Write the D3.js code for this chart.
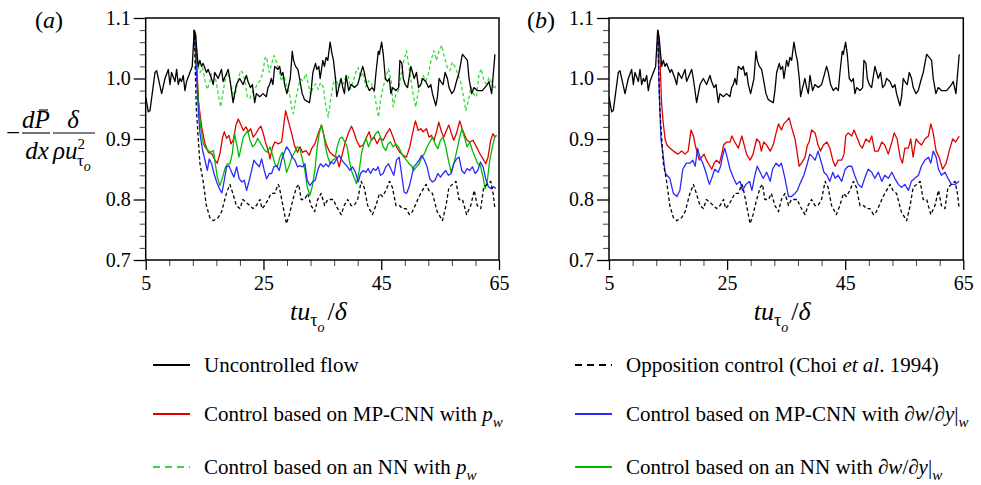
<!DOCTYPE html>
<html><head><meta charset="utf-8">
<script src="https://cdnjs.cloudflare.com/ajax/libs/d3/7.8.5/d3.min.js"></script>
<style>
body{margin:0;background:#fff}
svg{display:block}
text{font-family:"Liberation Serif","Times New Roman",serif;fill:#000}
</style>
</head><body><svg id="c" width="981" height="485"></svg>
<script>
// ---------------- data (t u_tau / delta, -dP/dx * delta/(rho u_tau^2)) ----------------
const xTicks = [5, 25, 45, 65];
const yTicks = [0.7, 0.8, 0.9, 1.0, 1.1];

const uncontrolled = [[5.0,0.97],[5.45,0.945],[5.73,0.947],[6.58,1.01],[6.86,1.013],[7.71,0.975],[8.27,1.0],[8.84,1.015],[9.12,0.99],[9.40,1.01],[9.97,0.995],[10.25,1.015],[10.53,0.99],[10.81,1.0],[11.09,0.995],[11.38,1.005],[11.66,0.98],[11.94,0.995],[12.51,1.01],[12.90,1.02],[13.24,1.08],[13.47,1.07],[13.92,1.02],[14.20,1.03],[14.48,1.02],[14.76,1.025],[15.33,1.01],[15.61,1.015],[16.17,1.0],[16.46,0.99],[16.74,1.01],[17.30,1.0],[17.87,1.015],[18.15,0.995],[19.0,1.015],[19.28,1.0],[19.84,0.96],[20.12,0.975],[20.41,0.99],[20.69,0.995],[20.97,1.0],[21.53,0.99],[22.10,1.005],[22.38,0.995],[22.78,0.985],[23.12,0.99],[23.51,0.96],[23.79,0.975],[24.36,0.97],[24.92,0.975],[25.49,0.97],[25.77,0.985],[26.05,0.99],[26.33,1.0],[26.61,0.99],[26.90,1.02],[27.46,1.015],[27.74,1.02],[28.03,1.005],[28.31,1.01],[28.59,0.99],[28.98,0.975],[29.32,0.99],[29.55,1.0],[29.89,1.045],[30.11,1.03],[30.45,1.02],[30.85,1.015],[31.13,1.0],[31.58,0.975],[31.98,0.965],[32.82,0.96],[33.10,0.98],[33.39,1.01],[33.84,1.025],[34.06,1.015],[34.40,1.02],[34.63,1.0],[35.08,1.03],[35.36,1.02],[35.64,1.035],[35.93,1.03],[36.32,1.06],[36.66,1.04],[36.89,1.03],[37.23,1.0],[37.45,0.97],[37.79,0.985],[38.18,1.0],[38.47,0.985],[38.75,0.975],[39.03,1.005],[39.48,0.98],[39.88,0.99],[40.44,0.985],[41.00,0.99],[41.57,1.01],[41.85,1.02],[42.13,1.01],[42.53,0.99],[42.98,0.98],[43.43,0.985],[43.83,0.98],[44.11,1.01],[44.50,1.045],[44.67,1.04],[45.07,1.06],[45.35,1.04],[45.69,1.0],[46.08,0.995],[46.37,1.0],[46.65,0.975],[46.93,0.985],[47.49,0.98],[47.95,0.985],[48.17,1.03],[48.51,1.025],[48.74,1.0],[49.07,0.99],[49.47,0.985],[50.03,1.02],[50.32,1.01],[50.60,1.0],[50.99,1.01],[51.33,0.985],[51.73,0.99],[52.01,1.0],[52.57,0.995],[53.03,0.985],[53.42,0.99],[53.70,0.975],[54.27,0.955],[54.55,0.97],[54.83,1.0],[55.11,0.995],[55.51,0.99],[55.85,1.01],[56.24,1.0],[56.52,0.985],[56.98,0.975],[57.37,0.98],[57.77,0.995],[58.22,1.01],[58.50,1.025],[58.78,1.04],[59.23,1.035],[59.63,1.03],[59.91,1.0],[60.36,0.975],[60.76,0.985],[61.32,0.98],[62.17,0.98],[63.01,0.99],[63.30,0.995],[63.75,0.975],[64.31,1.04]];

const opposition = [[13.24,1.08],[13.6,0.95],[14.2,0.86],[14.76,0.83],[15.3,0.79],[15.9,0.77],[16.5,0.765],[17.3,0.77],[17.9,0.78],[18.7,0.81],[19.3,0.825],[19.8,0.81],[20.4,0.79],[21.0,0.785],[21.5,0.8],[22.1,0.795],[22.7,0.79],[23.2,0.785],[23.8,0.79],[24.4,0.8],[24.75,0.785],[25.2,0.79],[25.8,0.8],[26.3,0.81],[26.9,0.81],[27.5,0.825],[27.7,0.82],[28.3,0.79],[28.9,0.76],[29.4,0.775],[30.0,0.8],[30.6,0.82],[31.0,0.825],[31.4,0.8],[32.0,0.8],[32.5,0.81],[33.1,0.79],[33.7,0.78],[34.2,0.8],[34.8,0.81],[35.4,0.79],[35.9,0.8],[36.5,0.8],[36.9,0.8],[37.3,0.79],[38.2,0.775],[38.7,0.79],[39.3,0.8],[39.9,0.79],[40.4,0.79],[41.0,0.8],[41.6,0.83],[42.1,0.82],[42.7,0.79],[43.5,0.775],[44.1,0.79],[44.7,0.81],[45.2,0.805],[45.8,0.815],[46.4,0.83],[46.9,0.82],[47.5,0.79],[48.1,0.79],[48.6,0.785],[49.2,0.785],[49.8,0.775],[50.3,0.78],[51.2,0.8],[51.7,0.81],[52.6,0.825],[53.1,0.815],[53.7,0.81],[54.5,0.78],[55.4,0.765],[56.0,0.79],[56.5,0.82],[57.1,0.825],[57.7,0.83],[58.2,0.8],[58.8,0.8],[59.5,0.775],[60.2,0.79],[60.8,0.815],[61.3,0.79],[61.9,0.785],[62.4,0.82],[63.0,0.825],[63.6,0.83],[64.0,0.81],[64.3,0.785]];

// panel (a)
const mpcnnPwA = [[13.24,1.08],[13.48,1.074],[13.94,0.964],[14.50,0.920],[15.07,0.892],[15.63,0.878],[16.20,0.876],[16.76,0.865],[17.16,0.860],[17.61,0.876],[18.07,0.903],[18.35,0.912],[18.74,0.901],[19.14,0.906],[19.48,0.892],[19.88,0.898],[20.33,0.923],[20.72,0.933],[21.18,0.923],[21.57,0.914],[22.02,0.920],[22.48,0.912],[22.82,0.917],[23.27,0.903],[23.72,0.909],[24.17,0.917],[24.57,0.921],[24.97,0.909],[25.42,0.892],[25.81,0.881],[26.10,0.867],[26.55,0.887],[26.95,0.895],[27.51,0.892],[28.08,0.895],[28.47,0.925],[28.76,0.947],[29.10,0.934],[29.49,0.920],[29.94,0.903],[30.34,0.887],[30.79,0.878],[31.19,0.887],[31.64,0.878],[32.21,0.881],[32.77,0.873],[33.17,0.884],[33.73,0.892],[34.30,0.909],[34.86,0.923],[35.32,0.903],[35.83,0.887],[36.28,0.878],[36.84,0.873],[37.41,0.870],[37.86,0.854],[38.26,0.870],[38.82,0.892],[39.39,0.909],[39.95,0.921],[40.35,0.912],[40.80,0.898],[41.37,0.887],[41.93,0.890],[42.50,0.903],[42.95,0.912],[43.35,0.898],[43.80,0.903],[44.31,0.892],[44.76,0.901],[45.33,0.898],[45.89,0.909],[46.46,0.917],[47.03,0.903],[47.59,0.887],[48.16,0.878],[48.72,0.873],[49.29,0.870],[49.85,0.887],[50.31,0.909],[50.81,0.930],[51.27,0.914],[51.72,0.917],[52.11,0.912],[52.68,0.917],[53.13,0.903],[53.53,0.906],[53.98,0.898],[54.38,0.912],[54.77,0.928],[55.23,0.912],[55.62,0.903],[56.07,0.914],[56.47,0.923],[56.92,0.909],[57.32,0.898],[57.77,0.909],[58.34,0.930],[58.73,0.917],[59.19,0.906],[59.58,0.898],[60.03,0.895],[60.60,0.898],[61.17,0.887],[61.73,0.876],[62.30,0.867],[62.75,0.859],[63.14,0.870],[63.60,0.898],[63.99,0.909],[64.28,0.903],[64.56,0.906]];

const mpcnnDwA = [[13.24,1.08],[13.94,0.947],[14.22,0.909],[14.67,0.881],[15.07,0.865],[15.46,0.848],[15.80,0.867],[16.20,0.859],[16.60,0.843],[17.05,0.829],[17.50,0.818],[17.95,0.811],[18.35,0.832],[18.74,0.854],[19.14,0.856],[19.59,0.845],[19.99,0.837],[20.44,0.854],[20.89,0.834],[21.35,0.829],[21.74,0.832],[22.14,0.815],[22.59,0.832],[22.99,0.848],[23.38,0.865],[23.83,0.859],[24.29,0.854],[24.68,0.867],[25.14,0.848],[25.53,0.834],[25.98,0.843],[26.38,0.843],[26.78,0.854],[27.23,0.856],[27.68,0.848],[28.08,0.865],[28.47,0.876],[28.93,0.887],[29.38,0.881],[29.89,0.870],[30.34,0.865],[30.79,0.854],[31.19,0.856],[31.64,0.854],[32.04,0.859],[32.43,0.832],[32.88,0.823],[33.34,0.829],[33.79,0.832],[34.30,0.851],[34.69,0.859],[35.15,0.854],[35.60,0.859],[36.05,0.854],[36.45,0.862],[36.96,0.859],[37.41,0.867],[37.86,0.873],[38.31,0.865],[38.82,0.859],[39.28,0.854],[39.67,0.848],[40.12,0.854],[40.63,0.845],[41.09,0.829],[41.48,0.843],[41.93,0.848],[42.39,0.845],[42.78,0.851],[43.18,0.843],[43.63,0.851],[44.08,0.848],[44.48,0.854],[44.88,0.840],[45.33,0.843],[45.78,0.854],[46.23,0.859],[46.74,0.848],[47.14,0.840],[47.59,0.865],[48.04,0.870],[48.44,0.843],[48.89,0.812],[49.29,0.810],[49.74,0.821],[50.14,0.837],[50.53,0.854],[50.98,0.859],[51.44,0.865],[51.89,0.873],[52.34,0.865],[52.79,0.854],[53.25,0.834],[53.70,0.829],[54.15,0.832],[54.60,0.843],[55.06,0.837],[55.51,0.843],[55.96,0.848],[56.41,0.840],[56.87,0.843],[57.32,0.859],[57.77,0.867],[58.22,0.870],[58.68,0.848],[59.13,0.843],[59.58,0.851],[60.03,0.848],[60.49,0.854],[60.94,0.843],[61.39,0.848],[61.84,0.862],[62.30,0.854],[62.75,0.834],[63.20,0.821],[63.65,0.818],[64.10,0.821],[64.45,0.818]];

const nnDwA = [[13.24,1.08],[13.94,0.964],[14.33,0.920],[14.79,0.892],[15.24,0.884],[15.63,0.881],[16.03,0.878],[16.48,0.881],[16.82,0.859],[17.16,0.837],[17.61,0.823],[18.07,0.837],[18.46,0.851],[18.86,0.859],[19.31,0.859],[19.71,0.876],[20.10,0.909],[20.44,0.892],[20.84,0.870],[21.23,0.887],[21.57,0.903],[21.97,0.909],[22.31,0.914],[22.70,0.898],[23.16,0.887],[23.61,0.892],[24.00,0.901],[24.40,0.895],[24.85,0.887],[25.25,0.881],[25.64,0.878],[26.10,0.887],[26.55,0.873],[26.95,0.859],[27.34,0.854],[27.79,0.870],[28.19,0.878],[28.53,0.865],[28.93,0.845],[29.38,0.856],[29.83,0.870],[30.28,0.878],[30.74,0.887],[31.19,0.884],[31.64,0.865],[32.04,0.848],[32.43,0.821],[32.88,0.807],[33.28,0.821],[33.73,0.848],[34.13,0.887],[34.47,0.909],[34.81,0.923],[35.15,0.912],[35.54,0.887],[35.94,0.870],[36.33,0.859],[36.73,0.865],[37.13,0.867],[37.52,0.887],[37.97,0.901],[38.37,0.903],[38.82,0.895],[39.22,0.887],[39.56,0.865],[39.95,0.848],[40.35,0.837],[40.80,0.826],[41.26,0.848],[41.65,0.876],[42.05,0.892],[42.44,0.901],[42.84,0.887],[43.29,0.898],[43.69,0.903],[44.08,0.909],[44.48,0.913],[44.88,0.903],[45.33,0.887],[45.78,0.881],[46.18,0.892],[46.57,0.895],[47.03,0.887],[47.48,0.892],[47.93,0.887],[48.38,0.878],[48.84,0.870],[49.29,0.865],[49.74,0.859],[50.14,0.856],[50.53,0.848],[50.98,0.854],[51.44,0.859],[51.89,0.870],[52.34,0.876],[52.79,0.887],[53.25,0.895],[53.70,0.903],[54.15,0.892],[54.60,0.884],[55.06,0.898],[55.51,0.903],[55.96,0.887],[56.41,0.865],[56.87,0.845],[57.32,0.859],[57.77,0.878],[58.22,0.898],[58.68,0.917],[59.13,0.903],[59.58,0.887],[60.03,0.895],[60.49,0.881],[60.94,0.870],[61.39,0.859],[61.84,0.856],[62.30,0.837],[62.64,0.818],[63.03,0.832],[63.43,0.865],[63.88,0.887],[64.28,0.903],[64.56,0.906]];

const nnPwA = [[13.24,1.08],[13.48,1.069],[13.82,1.024],[14.22,1.010],[14.67,1.018],[15.07,0.996],[15.46,0.982],[15.80,0.991],[16.20,1.008],[16.60,1.010],[16.93,0.996],[17.33,0.974],[17.73,0.953],[18.07,0.974],[18.46,0.996],[18.86,1.010],[19.20,1.002],[19.59,0.986],[19.99,0.967],[20.33,0.980],[20.72,0.999],[21.12,1.013],[21.46,1.010],[21.86,0.996],[22.25,0.970],[22.70,0.967],[23.16,0.978],[23.55,0.982],[23.95,0.991],[24.40,0.996],[24.85,1.008],[25.25,1.033],[25.53,1.036],[25.98,1.010],[26.38,1.024],[26.78,1.038],[27.23,1.027],[27.68,1.010],[28.08,0.996],[28.47,1.005],[28.93,0.988],[29.38,0.977],[29.77,0.953],[30.06,0.942],[30.45,0.964],[30.90,0.986],[31.30,0.999],[31.75,0.996],[32.21,1.008],[32.60,0.991],[33.00,0.974],[33.45,0.986],[33.90,0.991],[34.30,0.982],[34.69,0.993],[35.15,0.986],[35.60,0.953],[36.00,0.936],[36.39,0.964],[36.84,0.991],[37.24,1.002],[37.69,0.986],[38.09,0.999],[38.54,0.991],[38.99,1.002],[39.39,1.005],[39.78,0.982],[40.24,0.996],[40.69,1.010],[41.09,1.018],[41.48,1.002],[41.93,1.010],[42.39,0.986],[42.84,0.996],[43.29,0.993],[43.74,0.980],[44.20,0.955],[44.53,0.936],[44.88,0.964],[45.33,0.986],[45.78,1.002],[46.23,1.016],[46.69,0.996],[47.03,0.953],[47.48,0.974],[47.93,0.980],[48.38,1.008],[48.84,1.030],[49.29,1.046],[49.63,1.024],[49.97,1.002],[50.42,0.974],[50.87,0.953],[51.21,0.974],[51.66,0.991],[52.11,1.005],[52.57,0.996],[53.02,1.008],[53.47,1.030],[53.93,1.046],[54.38,1.030],[54.83,1.046],[55.28,1.055],[55.74,1.035],[56.19,1.019],[56.64,1.013],[57.09,1.027],[57.55,1.019],[58.00,1.008],[58.45,0.996],[58.90,0.974],[59.36,0.947],[59.81,0.964],[60.26,0.986],[60.71,0.974],[61.17,0.970],[61.62,1.008],[62.01,1.016],[62.41,0.996],[62.86,0.991],[63.31,1.002],[63.76,0.993],[64.22,0.982],[64.45,0.988]];

// panel (b)
const mpcnnPwB = [[13.24,1.08],[13.6,1.04],[13.9,0.96],[14.2,0.925],[14.5,0.9],[14.8,0.89],[15.3,0.885],[15.9,0.88],[16.7,0.875],[17.3,0.88],[17.9,0.875],[18.4,0.88],[18.9,0.915],[19.3,0.905],[19.6,0.89],[20.0,0.875],[20.3,0.865],[20.7,0.87],[21.1,0.875],[21.5,0.865],[22.1,0.855],[22.4,0.85],[22.8,0.86],[23.2,0.865],[23.7,0.86],[24.1,0.875],[24.4,0.89],[24.9,0.895],[25.5,0.895],[25.8,0.905],[26.3,0.895],[26.9,0.885],[27.5,0.905],[27.9,0.89],[28.3,0.875],[28.9,0.865],[29.4,0.875],[30.0,0.9],[30.5,0.895],[30.8,0.88],[31.2,0.895],[31.7,0.89],[32.3,0.88],[32.8,0.89],[33.3,0.91],[33.7,0.925],[34.2,0.915],[34.6,0.925],[35.1,0.93],[35.5,0.935],[35.9,0.92],[36.5,0.9],[36.9,0.875],[37.2,0.855],[37.6,0.86],[38.2,0.87],[38.6,0.89],[38.9,0.895],[39.3,0.915],[39.9,0.91],[40.4,0.89],[40.8,0.88],[41.3,0.89],[41.9,0.895],[42.4,0.885],[42.9,0.865],[43.3,0.855],[43.8,0.865],[44.4,0.865],[44.8,0.875],[45.1,0.905],[45.5,0.91],[46.1,0.905],[46.5,0.915],[46.9,0.905],[47.5,0.89],[47.9,0.885],[48.5,0.9],[49.1,0.895],[49.5,0.905],[50.0,0.88],[50.6,0.88],[51.2,0.895],[51.7,0.89],[52.3,0.875],[52.9,0.895],[53.3,0.91],[53.8,0.9],[54.3,0.87],[54.7,0.86],[55.1,0.885],[55.7,0.885],[56.1,0.9],[56.5,0.87],[57.0,0.9],[57.4,0.895],[57.9,0.89],[58.5,0.9],[59.1,0.905],[59.5,0.925],[59.9,0.91],[60.4,0.88],[60.9,0.87],[61.5,0.85],[62.1,0.86],[62.6,0.88],[63.2,0.9],[63.7,0.895],[64.3,0.905]];

const mpcnnDwB = [[13.24,1.08],[13.5,0.98],[13.8,0.9],[14.2,0.87],[14.5,0.845],[14.8,0.84],[15.3,0.835],[15.9,0.81],[16.5,0.805],[17.0,0.815],[17.5,0.85],[18.1,0.86],[18.7,0.86],[19.2,0.865],[19.6,0.855],[20.0,0.885],[20.4,0.87],[20.9,0.86],[21.4,0.845],[22.0,0.825],[22.4,0.835],[22.9,0.85],[23.5,0.845],[23.9,0.855],[24.2,0.87],[24.6,0.885],[25.0,0.87],[25.5,0.85],[26.1,0.835],[26.6,0.825],[27.2,0.83],[27.6,0.815],[28.2,0.825],[28.8,0.83],[29.2,0.815],[29.7,0.84],[30.1,0.855],[30.6,0.845],[31.1,0.835],[31.7,0.845],[32.3,0.83],[32.7,0.85],[33.3,0.86],[33.8,0.855],[34.2,0.86],[34.8,0.835],[35.4,0.805],[35.9,0.805],[36.5,0.81],[36.9,0.815],[37.3,0.825],[38.0,0.84],[38.6,0.86],[39.0,0.875],[39.5,0.87],[39.9,0.865],[40.4,0.88],[41.0,0.86],[41.4,0.845],[41.9,0.84],[42.4,0.83],[42.9,0.845],[43.3,0.835],[43.8,0.84],[44.4,0.83],[45.0,0.85],[45.5,0.855],[46.1,0.855],[46.6,0.84],[47.2,0.825],[47.8,0.82],[48.3,0.835],[48.9,0.85],[49.5,0.845],[50.0,0.835],[50.6,0.845],[51.2,0.83],[51.7,0.84],[52.3,0.835],[52.9,0.845],[53.4,0.835],[54.0,0.825],[54.5,0.82],[55.1,0.825],[55.7,0.815],[56.2,0.83],[56.8,0.835],[57.4,0.84],[57.9,0.855],[58.5,0.865],[59.1,0.87],[59.5,0.86],[59.9,0.88],[60.4,0.87],[60.8,0.85],[61.3,0.84],[61.9,0.845],[62.4,0.835],[63.0,0.825],[63.6,0.825],[64.3,0.83]];

const panelLabels = ["(a)", "(b)"];

// ---------------- drawing ----------------
const svg = d3.select("#c");
const C = {black:"#000", red:"#e00000", blue:"#2a2aff", green:"#00bb00", greenDash:"#33dd33"};
const seriesStyle = {
  uncontrolled:{color:C.black, dash:null},
  opposition:{color:C.black, dash:"3.5,2.5"},
  mpcnnPw:{color:C.red, dash:null},
  mpcnnDw:{color:C.blue, dash:null},
  nnPw:{color:C.greenDash, dash:"3.5,2.5"},
  nnDw:{color:C.green, dash:null}
};

const panels = [
  {left:145.7, right:499, label:panelLabels[0], labelX:35, series:[
    ["nnPw", nnPwA], ["mpcnnPw", mpcnnPwA], ["nnDw", nnDwA], ["mpcnnDw", mpcnnDwA], ["opposition", opposition], ["uncontrolled", uncontrolled]]},
  {left:609, right:963.3, label:panelLabels[1], labelX:527, series:[
    ["mpcnnPw", mpcnnPwB], ["mpcnnDw", mpcnnDwB], ["opposition", opposition], ["uncontrolled", uncontrolled]]}
];
const plotTop = 18, plotBottom = 260;

panels.forEach((p, pi) => {
  const x = d3.scaleLinear().domain([5, 65]).range([p.left, p.right]);
  const y = d3.scaleLinear().domain([0.7, 1.1]).range([plotBottom, plotTop]);
  const g = svg.append("g");
  const clipId = "clip" + pi;
  svg.append("defs").append("clipPath").attr("id", clipId)
    .append("rect").attr("x", p.left).attr("y", plotTop).attr("width", p.right - p.left).attr("height", plotBottom - plotTop);

  // minor ticks
  const yMinor = d3.range(0.72, 1.1, 0.02).filter(v => Math.abs(v*10 - Math.round(v*10)) > 1e-6);
  const xMinor = d3.range(9, 65, 4).filter(v => !xTicks.includes(v));
  g.append("g").attr("transform", `translate(${p.left},0)`)
    .call(d3.axisLeft(y).tickValues(yMinor).tickSize(6).tickFormat(""))
    .call(s => { s.select(".domain").remove(); s.selectAll("line").attr("stroke", "#444").attr("stroke-width", 1); });
  g.append("g").attr("transform", `translate(0,${plotBottom})`)
    .call(d3.axisBottom(x).tickValues(xMinor).tickSize(6).tickFormat(""))
    .call(s => { s.select(".domain").remove(); s.selectAll("line").attr("stroke", "#444").attr("stroke-width", 1); });

  // major ticks
  g.append("g").attr("transform", `translate(${p.left},0)`)
    .call(d3.axisLeft(y).tickValues(yTicks).tickSize(12).tickPadding(3).tickFormat(d3.format(".1f")))
    .call(s => { s.select(".domain").remove();
      s.selectAll("line").attr("stroke", "#000").attr("stroke-width", 1.3);
      s.selectAll("text").attr("font-size", 20).attr("font-family", '"Liberation Serif",serif').attr("fill", "#000"); });
  g.append("g").attr("transform", `translate(0,${plotBottom})`)
    .call(d3.axisBottom(x).tickValues(xTicks).tickSize(10).tickPadding(6).tickFormat(d3.format("d")))
    .call(s => { s.select(".domain").remove();
      s.selectAll("line").attr("stroke", "#000").attr("stroke-width", 1.3);
      s.selectAll("text").attr("font-size", 20).attr("font-family", '"Liberation Serif",serif').attr("fill", "#000"); });

  // series
  const line = d3.line().x(d => x(d[0])).y(d => y(d[1]));
  const lg = g.append("g").attr("clip-path", `url(#${clipId})`);
  p.series.forEach(([key, data]) => {
    const st = seriesStyle[key];
    lg.append("path").attr("d", line(data)).attr("fill", "none")
      .attr("stroke", st.color).attr("stroke-width", 1.3)
      .attr("stroke-dasharray", st.dash).attr("stroke-linejoin", "round");
  });

  // frame
  g.append("rect").attr("x", p.left).attr("y", plotTop).attr("width", p.right - p.left).attr("height", plotBottom - plotTop)
    .attr("fill", "none").attr("stroke", "#000").attr("stroke-width", 1.5);

  // panel label
  const pl = svg.append("text").attr("x", p.labelX).attr("y", 28).attr("font-size", 24);
  pl.append("tspan").text("(");
  pl.append("tspan").attr("font-style", "italic").text(p.label.slice(1, 2));
  pl.append("tspan").text(")");

  // x title
  const xt = svg.append("text").attr("x", (p.left + p.right) / 2 - 4).attr("y", 320)
    .attr("text-anchor", "middle").attr("font-size", 26).attr("font-style", "italic");
  xt.append("tspan").text("tu");
  xt.append("tspan").attr("font-size", 18).attr("dy", 6).attr("font-style", "normal").text("τ");
  xt.append("tspan").attr("font-size", 14).attr("dy", 6).text("o");
  xt.append("tspan").attr("dy", -12).attr("dx", 3).attr("font-style", "normal").text("/");
  xt.append("tspan").text("δ");
});

// y title (panel a)
const yl = svg.append("g").attr("font-size", 25);
yl.append("text").attr("x", 13).attr("y", 141).attr("text-anchor", "middle").text("−");
yl.append("text").attr("x", 36).attr("y", 128).attr("text-anchor", "middle").attr("font-style", "italic").text("dP");
yl.append("line").attr("x1", 39).attr("x2", 48).attr("y1", 110).attr("y2", 110).attr("stroke", "#000").attr("stroke-width", 1.1);
yl.append("line").attr("x1", 22).attr("x2", 50).attr("y1", 133).attr("y2", 133).attr("stroke", "#000").attr("stroke-width", 1.1);
yl.append("text").attr("x", 37).attr("y", 159).attr("text-anchor", "middle").attr("font-style", "italic").text("dx");
yl.append("text").attr("x", 73).attr("y", 128).attr("text-anchor", "middle").attr("font-style", "italic").text("δ");
yl.append("line").attr("x1", 53).attr("x2", 95).attr("y1", 133).attr("y2", 133).attr("stroke", "#000").attr("stroke-width", 1.1);
const den = yl.append("text").attr("x", 53).attr("y", 159).attr("font-style", "italic");
den.append("tspan").text("ρu");
den.append("tspan").attr("font-size", 15).attr("font-style", "normal").attr("dy", -10).text("2");
den.append("tspan").attr("font-size", 17).attr("font-style", "normal").attr("dx", -8).attr("dy", 17).text("τ");
den.append("tspan").attr("font-size", 14).attr("dy", 5).text("o");

// ---------------- legend ----------------
const legendLabels = [
  [{t:"Uncontrolled flow"}],
  [{t:"Control based on MP-CNN with "},{t:"p",i:1},{t:"w",i:1,sub:1}],
  [{t:"Control based on an NN with "},{t:"p",i:1},{t:"w",i:1,sub:1}],
  [{t:"Opposition control (Choi "},{t:"et al",i:1},{t:". 1994)"}],
  [{t:"Control based on MP-CNN with ∂"},{t:"w",i:1},{t:"/∂"},{t:"y",i:1},{t:"|"},{t:"w",i:1,sub:1}],
  [{t:"Control based on an NN with ∂"},{t:"w",i:1},{t:"/∂"},{t:"y",i:1},{t:"|"},{t:"w",i:1,sub:1}]
];
const legendKeys = ["uncontrolled", "mpcnnPw", "nnPw", "opposition", "mpcnnDw", "nnDw"];
const legendRows = [365, 414, 467];
legendKeys.forEach((k, i) => {
  const col = Math.floor(i / 3), row = i % 3;
  const x0 = col === 0 ? 153 : 575;
  const yy = legendRows[row];
  const st = seriesStyle[k];
  svg.append("line").attr("x1", x0).attr("x2", x0 + 37).attr("y1", yy).attr("y2", yy)
    .attr("stroke", st.color).attr("stroke-width", 2.2).attr("stroke-dasharray", st.dash ? "7,5" : null);
  const t = svg.append("text").attr("x", x0 + 51).attr("y", yy + 7).attr("font-size", 21);
  let shifted = false;
  legendLabels[i].forEach(part => {
    const ts = t.append("tspan").text(part.t);
    if (part.i) ts.attr("font-style", "italic");
    if (part.sub) { ts.attr("font-size", 15).attr("dy", 6); shifted = true; }
    else if (shifted) { ts.attr("dy", -6); shifted = false; }
  });
});
</script></body></html>
